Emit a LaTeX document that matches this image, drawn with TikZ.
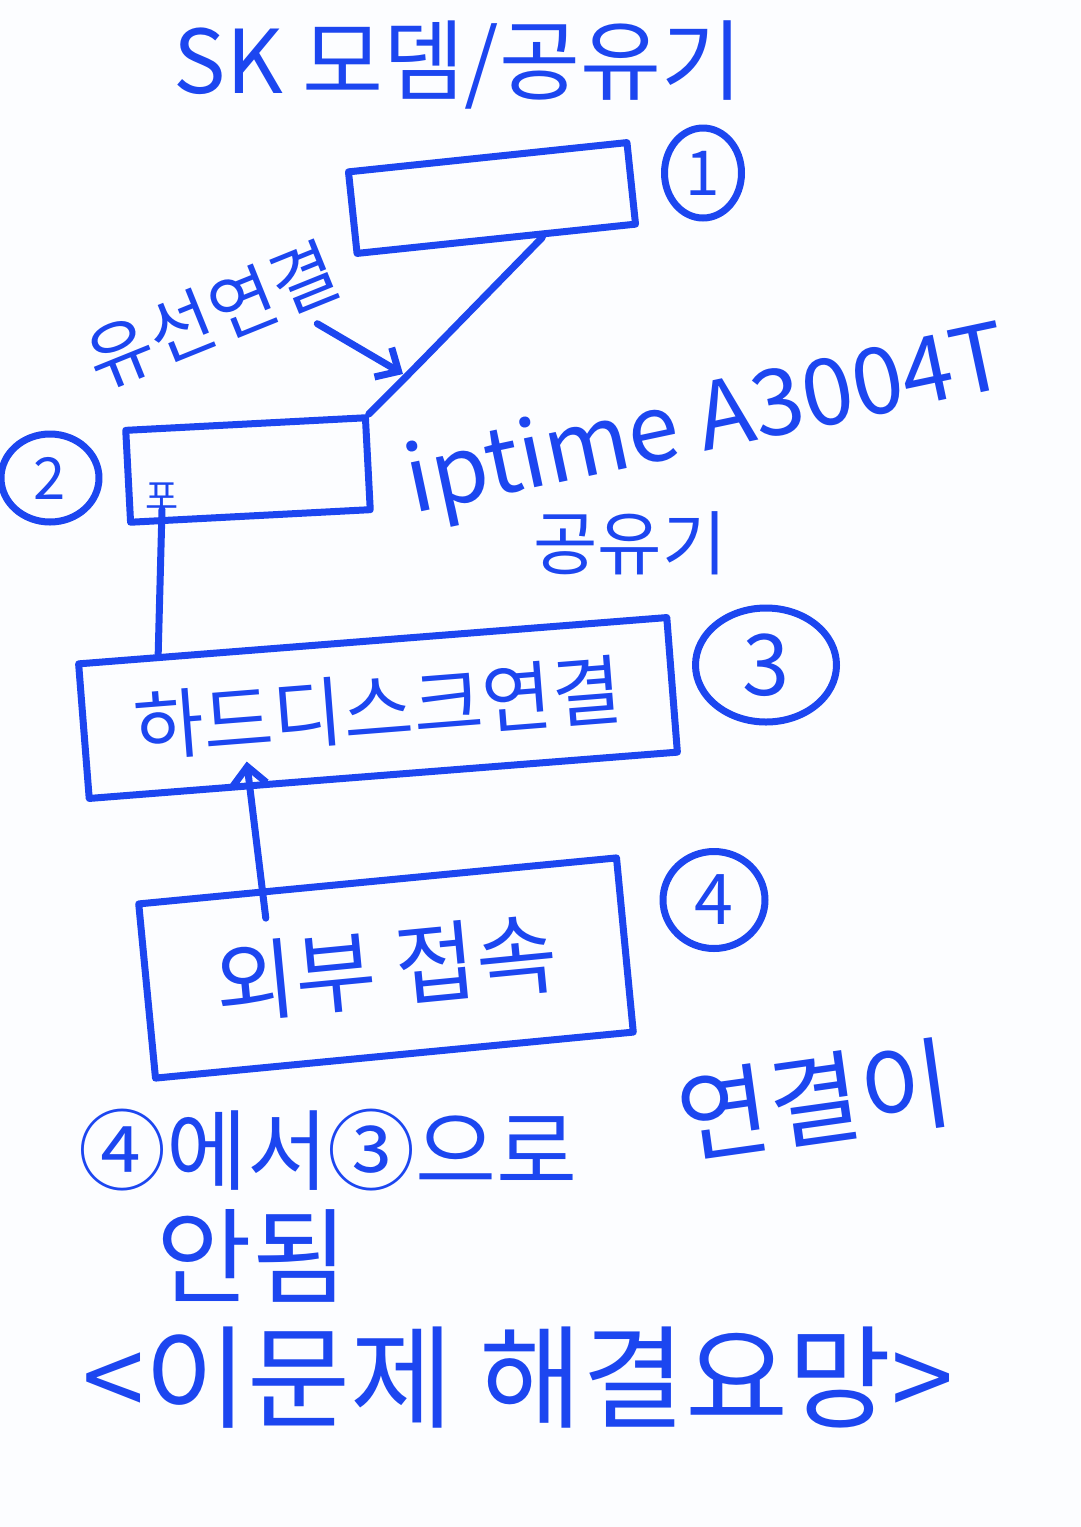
\documentclass[tikz,border=0pt]{standalone}
\usepackage{fontspec}
\newfontfamily\kr{Noto Sans CJK KR}
\usetikzlibrary{shapes.geometric,arrows.meta,calc}
\definecolor{penblue}{RGB}{28,70,240}
\definecolor{paper}{RGB}{252,253,255}
\tikzset{
  pen/.style={draw=penblue, line width=7pt, line cap=round, line join=round},
  hand/.style={text=penblue, font=\kr\fontsize{#1}{#1}\selectfont, inner sep=0pt},
  box/.style={pen, inner sep=0pt},
  num/.style={pen, ellipse, inner sep=0pt, text=penblue, font=\kr\fontsize{#1}{#1}\selectfont},
  barb/.style={pen, -{Straight Barb[length=18pt,width=34pt]}}
}
\begin{document}
\begin{tikzpicture}[x=1pt,y=-1pt]
\fill[paper] (0,0) rectangle (1080,1527);
\useasboundingbox (0,0) rectangle (1080,1527);
% modem and first router
\node[hand=88] (title) at (458,65) {SK 모뎀/공유기};
\node[box, minimum width=280pt, minimum height=82pt, rotate=6] (modem) at (492,198) {};
\node[num=62, minimum width=77pt, minimum height=90pt] (n1) at (703,173) {1};
\node[hand=72, rotate=22] (wired) at (212,315) {유선연결};
% iptime router
\node[box, minimum width=240pt, minimum height=92pt, rotate=3] (router) at (248,470) {};
\node[num=58, minimum width=98pt, minimum height=88pt] (n2) at (50,478) {2};
\node[hand=36] (port) at (162,496) {포};
\node[hand=92, rotate=12] (model) at (708,425) {iptime A3004T};
\node[hand=70] (routerlabel) at (630,543) {공유기};
% hard disk and outside access
\node[box, hand=76, minimum width=590pt, minimum height=135pt, rotate=4.5] (hdd) at (378,708) {하드디스크연결};
\node[num=85, minimum width=141pt, minimum height=114pt] (n3) at (766,665) {3};
\node[box, hand=88, minimum width=480pt, minimum height=175pt, rotate=5.5] (ext) at (386,968) {외부 접속};
\node[num=70, minimum width=102pt, minimum height=97pt] (n4) at (714,900) {4};
% note
\node[hand=88] (q1) at (328,1150) {④에서③으로};
\node[hand=100, rotate=8] (q2) at (815,1100) {연결이};
\node[hand=104] (q3) at (252,1256) {안됨};
\node[hand=112] (q4) at (518,1378) {<이문제 해결요망>};
% connectors
\coordinate (bend) at (405,378);
\draw[pen, rounded corners=30pt] ($(modem.south west)!0.66!(modem.south east)$) -- (bend) -- (router.north east);
\draw[barb] ($(wired.south east)+(-30,28)$) -- ($(bend)+(-2,-4)$);
\draw[pen] (port.south) -- ($(hdd.north west)!0.14!(hdd.north east)$);
\draw[barb] ($(ext.north west)!0.27!(ext.north east)+(0,30)$) -- ($(hdd.south west)!0.27!(hdd.south east)+(0,-28)$);
\end{tikzpicture}
\end{document}
